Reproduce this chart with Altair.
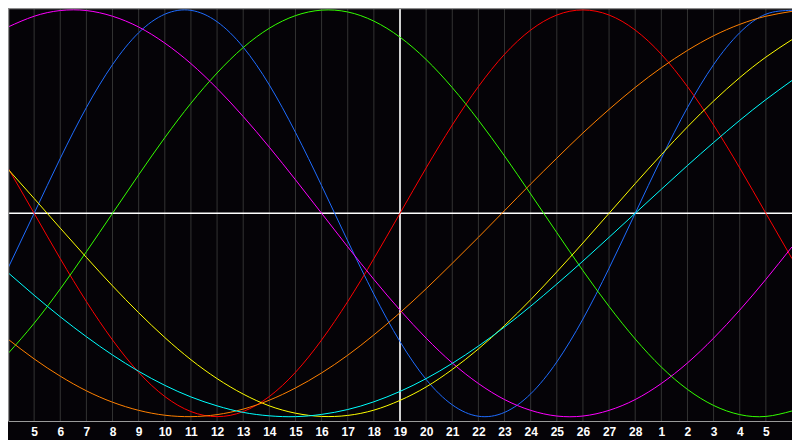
import altair as alt
import pandas as pd

# ---- data (one value per day, day 4 .. day 34) ----
days = list(range(4, 35))

physical = [-0.270, 0.000, 0.270, 0.520, 0.731, 0.888, 0.979, 0.998, 0.942, 0.817, 0.631, 0.398,
            0.136, -0.136, -0.398, -0.631, -0.817, -0.942, -0.998, -0.979, -0.888, -0.731,
            -0.520, -0.270, 0.000, 0.270, 0.520, 0.731, 0.888, 0.979, 0.998]
emotional = [0.223, 0.000, -0.223, -0.434, -0.623, -0.782, -0.901, -0.975, -1.000, -0.975,
             -0.901, -0.782, -0.623, -0.434, -0.223, 0.000, 0.223, 0.434, 0.623, 0.782, 0.901,
             0.975, 1.000, 0.975, 0.901, 0.782, 0.623, 0.434, 0.223, 0.000, -0.223]
intellectual = [-0.690, -0.541, -0.372, -0.189, 0.000, 0.189, 0.372, 0.541, 0.690, 0.815, 0.910,
                0.972, 0.999, 0.990, 0.945, 0.866, 0.756, 0.618, 0.458, 0.282, 0.095, -0.095,
                -0.282, -0.458, -0.618, -0.756, -0.866, -0.945, -0.990, -0.999, -0.972]
intuitive = [0.916, 0.969, 0.997, 0.997, 0.969, 0.916, 0.837, 0.736, 0.614, 0.476, 0.325, 0.165,
             0.000, -0.165, -0.325, -0.476, -0.614, -0.736, -0.837, -0.916, -0.969, -0.997,
             -0.997, -0.969, -0.916, -0.837, -0.736, -0.614, -0.476, -0.325, -0.165]
aesthetic = [0.217, 0.073, -0.073, -0.217, -0.357, -0.489, -0.611, -0.720, -0.813, -0.889,
             -0.947, -0.983, -0.999, -0.994, -0.968, -0.920, -0.854, -0.768, -0.667, -0.552,
             -0.425, -0.288, -0.146, 0.000, 0.146, 0.288, 0.425, 0.552, 0.667, 0.768, 0.854]
awareness = [-0.619, -0.716, -0.801, -0.873, -0.929, -0.969, -0.993, -1.000, -0.990, -0.963,
             -0.919, -0.859, -0.785, -0.698, -0.598, -0.489, -0.371, -0.246, -0.118, 0.013,
             0.144, 0.271, 0.395, 0.511, 0.619, 0.716, 0.801, 0.873, 0.929, 0.969, 0.993]
spiritual = [-0.292, -0.403, -0.509, -0.607, -0.697, -0.777, -0.846, -0.903, -0.947, -0.979,
             -0.996, -1.000, -0.989, -0.965, -0.927, -0.876, -0.813, -0.738, -0.653, -0.559,
             -0.457, -0.348, -0.235, -0.118, 0.000, 0.118, 0.235, 0.348, 0.457, 0.559, 0.653]

series_names = ["Physical", "Emotional", "Intellectual", "Intuitive",
                "Aesthetic", "Awareness", "Spiritual"]
series_values = [physical, emotional, intellectual, intuitive, aesthetic, awareness, spiritual]
series_colors = ["#1e6cff", "#ff0000", "#33ff00", "#ff00ff", "#ffff00", "#ff8000", "#00ffff"]

tick_days = list(range(5, 34))
tick_labels = ["5", "6", "7", "8", "9", "10", "11", "12", "13", "14", "15", "16", "17", "18",
               "19", "20", "21", "22", "23", "24", "25", "26", "27", "28", "1", "2", "3", "4", "5"]
today = [19]

# ---- build table ----
rows = []
for name, vals in zip(series_names, series_values):
    for d, v in zip(days, vals):
        rows.append({"day": d, "value": v, "series": name})
df = pd.DataFrame(rows)

W, H = 784, 413

label_array = "[" + ",".join("'" + s + "'" for s in tick_labels) + "]"
xaxis = alt.Axis(values=tick_days, labelExpr=label_array + "[datum.value - 5]",
                 grid=False, ticks=False, tickSize=0, domainColor="#9a9a9a", domainWidth=1,
                 labelColor="#ffffff", labelFont="Liberation Sans", labelFontSize=12,
                 labelFontWeight="bold", labelPadding=5, labelBaseline="top", labelAngle=0,
                 labelFlush=False, labelOverlap=False, title=None)
xscale = alt.Scale(domain=[4, 34], nice=False, zero=False)
yscale = alt.Scale(domain=[-1.0214, 1.0095], nice=False, zero=False)
X = alt.X("day:Q", scale=xscale, axis=xaxis)

grid = alt.Chart(pd.DataFrame({"day": tick_days})).mark_rule(
    color="#333333", strokeWidth=1).encode(x=X)

today_rule = alt.Chart(pd.DataFrame({"day": today})).mark_rule(
    color="#ffffff", strokeWidth=1.6).encode(x=X)

zero_rule = alt.Chart(pd.DataFrame({"v": [0]})).mark_rule(
    color="#ffffff", strokeWidth=1.6).encode(
    y=alt.Y("v:Q", scale=yscale, axis=None))

lines = alt.Chart(df).mark_line(strokeWidth=1, interpolate="natural").encode(
    x=X,
    y=alt.Y("value:Q", scale=yscale, axis=None),
    color=alt.Color("series:N", scale=alt.Scale(domain=series_names, range=series_colors),
                    legend=None),
)

left_border = alt.Chart(pd.DataFrame({"a": [0]})).mark_rule(
    color="#8c8c8c", strokeWidth=1.5).encode(
    x=alt.value(0.5), y=alt.value(0), y2=alt.value(H))
top_border = alt.Chart(pd.DataFrame({"a": [0]})).mark_rule(
    color="#8c8c8c", strokeWidth=1.5).encode(
    y=alt.value(0.5), x=alt.value(0), x2=alt.value(W))

chart = alt.layer(grid, zero_rule, today_rule, lines, left_border, top_border).properties(
    width=W, height=H,
    autosize=alt.AutoSizeParams(type="none"),
    padding={"left": 0, "right": 0, "top": 0, "bottom": 19},
    background="#050307",
).configure_view(strokeWidth=0)

chart.save("out.html", embed_options={"renderer": "svg", "actions": False})
